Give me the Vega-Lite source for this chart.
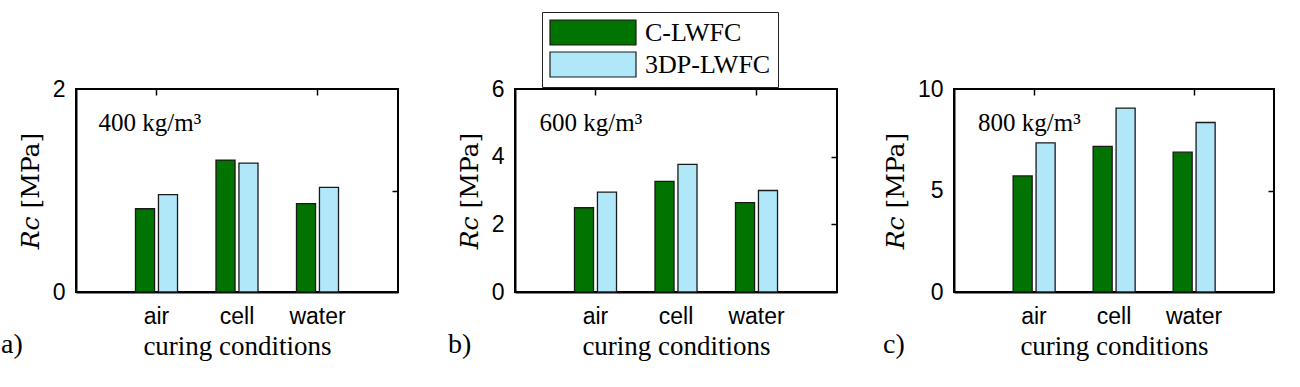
{
  "$schema": "https://vega.github.io/schema/vega-lite/v6.json",
  "background": "white",
  "padding": {"left": 0, "top": 11, "right": 5, "bottom": 5},
  "datasets": {
    "rc": [
      {"density": 400, "condition": "air", "type": "C-LWFC", "Rc": 0.82},
      {"density": 400, "condition": "air", "type": "3DP-LWFC", "Rc": 0.96},
      {"density": 400, "condition": "cell", "type": "C-LWFC", "Rc": 1.30},
      {"density": 400, "condition": "cell", "type": "3DP-LWFC", "Rc": 1.27},
      {"density": 400, "condition": "water", "type": "C-LWFC", "Rc": 0.87},
      {"density": 400, "condition": "water", "type": "3DP-LWFC", "Rc": 1.03},
      {"density": 600, "condition": "air", "type": "C-LWFC", "Rc": 2.49},
      {"density": 600, "condition": "air", "type": "3DP-LWFC", "Rc": 2.95},
      {"density": 600, "condition": "cell", "type": "C-LWFC", "Rc": 3.27},
      {"density": 600, "condition": "cell", "type": "3DP-LWFC", "Rc": 3.77},
      {"density": 600, "condition": "water", "type": "C-LWFC", "Rc": 2.64},
      {"density": 600, "condition": "water", "type": "3DP-LWFC", "Rc": 3.00},
      {"density": 800, "condition": "air", "type": "C-LWFC", "Rc": 5.72},
      {"density": 800, "condition": "air", "type": "3DP-LWFC", "Rc": 7.35},
      {"density": 800, "condition": "cell", "type": "C-LWFC", "Rc": 7.17},
      {"density": 800, "condition": "cell", "type": "3DP-LWFC", "Rc": 9.06},
      {"density": 800, "condition": "water", "type": "C-LWFC", "Rc": 6.89},
      {"density": 800, "condition": "water", "type": "3DP-LWFC", "Rc": 8.35}
    ]
  },
  "config": {
    "view": {"stroke": "black", "strokeWidth": 2},
    "axis": {
      "domainColor": "black", "domainWidth": 2, "ticks": false, "grid": false,
      "labelFont": "Liberation Sans", "labelFontSize": 23, "labelColor": "black",
      "titleFont": "Liberation Serif", "titleFontSize": 27, "titleFontWeight": "normal", "titleColor": "black"
    },
    "title": {"font": "Liberation Serif", "fontSize": 28, "fontWeight": "normal", "color": "black"}
  },
  "spacing": 117,
  "bounds": "flush",
  "hconcat": [
    {
      "width": 322, "height": 203,
      "title": {"text": "a)", "orient": "bottom", "anchor": "start", "frame": "group", "dx": -75, "offset": -28},
      "resolve": {"axis": {"x": "independent", "y": "independent"}},
      "layer": [
        {
          "data": {"name": "rc"},
          "transform": [{"filter": "datum.density == 400"}],
          "mark": {"type": "bar", "stroke": "#1a1a1a", "strokeWidth": 1.3},
          "encoding": {
            "x": {"field": "condition", "type": "nominal", "sort": ["air", "cell", "water"], "scale": {"paddingInner": 0.478, "paddingOuter": 0.739}, "axis": {"labelAngle": 0, "labelPadding": 13, "title": "curing conditions", "titlePadding": 5}},
            "xOffset": {"field": "type", "type": "nominal", "sort": ["C-LWFC", "3DP-LWFC"], "scale": {"paddingInner": 0.17}},
            "y": {"field": "Rc", "type": "quantitative", "scale": {"domain": [0, 2]}, "axis": {"values": [0, 1, 2], "format": "d", "labelPadding": 11, "title": "𝑅𝑐 [MPa]", "titleFont": "DejaVu Serif", "titleFontSize": 25, "titlePadding": 9}},
            "color": {"field": "type", "type": "nominal", "scale": {"domain": ["C-LWFC", "3DP-LWFC"], "range": ["#007300", "#b0e8fa"]},
              "legend": {"orient": "none", "legendX": 466, "legendY": -77, "title": null, "symbolType": "M-1,-1H5.88V1H-1Z", "symbolSize": 625, "symbolStrokeColor": "black", "symbolStrokeWidth": 1.2, "symbolOpacity": 1, "labelFont": "Liberation Serif", "labelFontSize": 26, "labelColor": "black", "labelOffset": 69, "rowPadding": 1, "strokeColor": "#222", "padding": 7, "fillColor": "white"}}
          }
        },
        {
          "data": {"values": [{"label": "400 kg/m³"}]},
          "mark": {"type": "text", "align": "left", "baseline": "alphabetic", "dx": -58, "font": "Liberation Serif", "fontSize": 25, "color": "black"},
          "encoding": {
            "x": {"datum": "air", "type": "nominal", "axis": {"orient": "top", "values": ["air", "water"], "labels": false, "domain": false, "title": null, "ticks": true, "tickSize": -6, "tickWidth": 1.5, "tickColor": "black"}},
            "y": {"datum": 1.59, "type": "quantitative", "axis": {"orient": "right", "values": [1], "labels": false, "domain": false, "title": null, "ticks": true, "tickSize": -6, "tickWidth": 1.5, "tickColor": "black"}},
            "text": {"field": "label"}}
        }
      ]
    },
    {
      "width": 322, "height": 203,
      "title": {"text": "b)", "orient": "bottom", "anchor": "start", "frame": "group", "dx": -67, "offset": -28},
      "resolve": {"axis": {"x": "independent", "y": "independent"}},
      "layer": [
        {
          "data": {"name": "rc"},
          "transform": [{"filter": "datum.density == 600"}],
          "mark": {"type": "bar", "stroke": "#1a1a1a", "strokeWidth": 1.3},
          "encoding": {
            "x": {"field": "condition", "type": "nominal", "sort": ["air", "cell", "water"], "scale": {"paddingInner": 0.478, "paddingOuter": 0.739}, "axis": {"labelAngle": 0, "labelPadding": 13, "title": "curing conditions", "titlePadding": 5}},
            "xOffset": {"field": "type", "type": "nominal", "sort": ["C-LWFC", "3DP-LWFC"], "scale": {"paddingInner": 0.17}},
            "y": {"field": "Rc", "type": "quantitative", "scale": {"domain": [0, 6]}, "axis": {"values": [0, 2, 4, 6], "format": "d", "labelPadding": 11, "title": "𝑅𝑐 [MPa]", "titleFont": "DejaVu Serif", "titleFontSize": 25, "titlePadding": 9}},
            "color": {"field": "type", "type": "nominal", "scale": {"domain": ["C-LWFC", "3DP-LWFC"], "range": ["#007300", "#b0e8fa"]}}
          }
        },
        {
          "data": {"values": [{"label": "600 kg/m³"}]},
          "mark": {"type": "text", "align": "left", "baseline": "alphabetic", "dx": -56, "font": "Liberation Serif", "fontSize": 25, "color": "black"},
          "encoding": {
            "x": {"datum": "air", "type": "nominal", "axis": {"orient": "top", "values": ["air", "water"], "labels": false, "domain": false, "title": null, "ticks": true, "tickSize": -6, "tickWidth": 1.5, "tickColor": "black"}},
            "y": {"datum": 4.76, "type": "quantitative", "axis": {"orient": "right", "values": [2, 4], "labels": false, "domain": false, "title": null, "ticks": true, "tickSize": -6, "tickWidth": 1.5, "tickColor": "black"}},
            "text": {"field": "label"}}
        }
      ]
    },
    {
      "width": 320, "height": 203,
      "title": {"text": "c)", "orient": "bottom", "anchor": "start", "frame": "group", "dx": -71, "offset": -28},
      "resolve": {"axis": {"x": "independent", "y": "independent"}},
      "layer": [
        {
          "data": {"name": "rc"},
          "transform": [{"filter": "datum.density == 800"}],
          "mark": {"type": "bar", "stroke": "#1a1a1a", "strokeWidth": 1.3},
          "encoding": {
            "x": {"field": "condition", "type": "nominal", "sort": ["air", "cell", "water"], "scale": {"paddingInner": 0.478, "paddingOuter": 0.739}, "axis": {"labelAngle": 0, "labelPadding": 13, "title": "curing conditions", "titlePadding": 5}},
            "xOffset": {"field": "type", "type": "nominal", "sort": ["C-LWFC", "3DP-LWFC"], "scale": {"paddingInner": 0.17}},
            "y": {"field": "Rc", "type": "quantitative", "scale": {"domain": [0, 10]}, "axis": {"values": [0, 5, 10], "format": "d", "labelPadding": 11, "title": "𝑅𝑐 [MPa]", "titleFont": "DejaVu Serif", "titleFontSize": 25, "titlePadding": 9}},
            "color": {"field": "type", "type": "nominal", "scale": {"domain": ["C-LWFC", "3DP-LWFC"], "range": ["#007300", "#b0e8fa"]}}
          }
        },
        {
          "data": {"values": [{"label": "800 kg/m³"}]},
          "mark": {"type": "text", "align": "left", "baseline": "alphabetic", "dx": -56, "font": "Liberation Serif", "fontSize": 25, "color": "black"},
          "encoding": {
            "x": {"datum": "air", "type": "nominal", "axis": {"orient": "top", "values": ["air", "water"], "labels": false, "domain": false, "title": null, "ticks": true, "tickSize": -6, "tickWidth": 1.5, "tickColor": "black"}},
            "y": {"datum": 7.93, "type": "quantitative", "axis": {"orient": "right", "values": [5], "labels": false, "domain": false, "title": null, "ticks": true, "tickSize": -6, "tickWidth": 1.5, "tickColor": "black"}},
            "text": {"field": "label"}}
        }
      ]
    }
  ]
}
